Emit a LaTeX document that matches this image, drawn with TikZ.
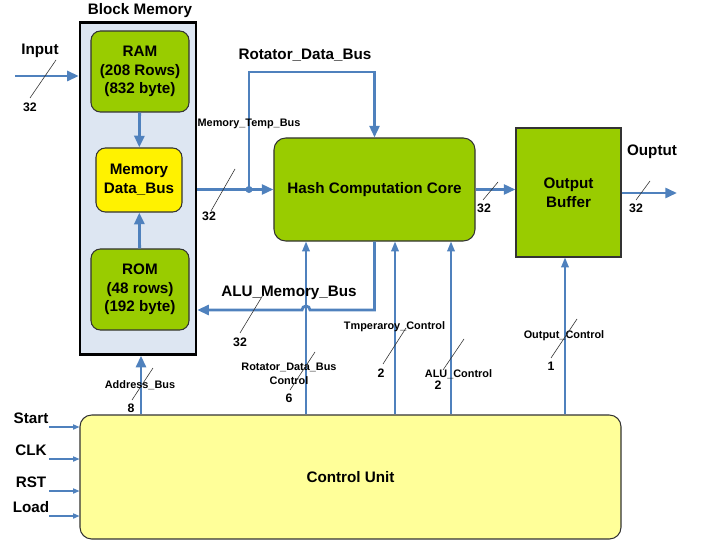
\documentclass[tikz,border=0pt]{standalone}
\usepackage{fontspec}
\setmainfont{Liberation Sans}
\usetikzlibrary{arrows.meta}

\definecolor{busblue}{RGB}{79,129,189}
\definecolor{coregreen}{RGB}{153,204,0}
\definecolor{memblue}{RGB}{221,230,242}
\definecolor{paleyellow}{RGB}{255,255,153}

\begin{document}
\begin{tikzpicture}[x=0.03cm,y=-0.03cm,
    blk/.style={draw=black!80,line width=0.9pt,align=center,font=\fontsize{13}{16}\selectfont\bfseries},
    bus/.style={busblue,line width=2.4pt,-{Triangle[length=10pt,width=8.5pt]}},
    ctrl/.style={busblue,line width=1.5pt,-{Triangle[length=8.5pt,width=6.5pt]}},
    sig/.style={busblue,line width=0.9pt,-{Triangle[length=5.5pt,width=4.5pt]}},
    slash/.style={black!80,line width=0.5pt},
    head/.style={font=\fontsize{13}{16}\selectfont\bfseries},
    tag/.style={font=\fontsize{9.3}{12}\selectfont\bfseries,align=center,inner sep=1pt},
    busw/.style={font=\fontsize{10.5}{12}\selectfont\bfseries,inner sep=1pt}]
    \useasboundingbox (0,0) rectangle (704,541);

    % memory block
    \node[blk,fill=memblue,draw=black,line width=2pt,minimum width=3.48cm,minimum height=9.96cm] (mem) at (138,188.5) {};
    \node[head] (memlbl) at (140,11) {Block Memory};
    \node[blk,fill=coregreen,rounded corners=8pt,minimum width=2.94cm,minimum height=2.43cm] (ram) at (140,71.5) {RAM\\(208 Rows)\\(832 byte)};
    \node[blk,fill=yellow,rounded corners=8pt,minimum width=2.58cm,minimum height=1.92cm] (mdb) at (139,180) {Memory\\Data\_Bus};
    \node[blk,fill=coregreen,rounded corners=8pt,minimum width=2.94cm,minimum height=2.43cm] (rom) at (140,289.5) {ROM\\(48 rows)\\(192 byte)};

    \node[blk,fill=coregreen,rounded corners=10pt,minimum width=6.03cm,minimum height=3.09cm] (hash) at (374.5,189.5) {Hash Computation Core};
    \node[blk,fill=coregreen,minimum width=3.15cm,minimum height=3.87cm] (obuf) at (568.5,192.5) {Output\\Buffer};
    \node[blk,fill=paleyellow,rounded corners=10pt,minimum width=16.23cm,minimum height=3.72cm] (cu) at (350.5,477) {Control Unit};

    % buses
    \draw[bus] (ram) -- (mdb);
    \draw[bus] (rom) -- (mdb);
    \coordinate (inp) at (15,76);
    \draw[bus] (inp) -- (inp -| mem.west);
    \coordinate (tap) at (249,189.5);
    \coordinate (rtop) at (249,72);
    \draw[bus] (mem.east |- hash.west) -- (hash.west);
    \draw[bus] (tap) -- (rtop) -| (hash.north);
    \fill[busblue] (tap) circle (3pt);
    \coordinate (alu) at (374.5,310);
    \draw[bus] (hash.south) -- (alu) -- (310,310) arc[start angle=0,end angle=-180,radius=4] -- (mem.east |- alu);
    \draw[bus] (hash.east) -- (hash.east -| obuf.west);
    \coordinate (outp) at (677,193);
    \draw[bus] (obuf.east |- outp) -- (outp);
    \coordinate (adr) at (141,380);
    \draw[bus] (cu.north -| adr) -- (mem.south -| adr);

    % control lines
    \foreach \x/\n in {306/rdc,395/tpc,451/aluc}{
      \coordinate (\n) at (\x,400);
      \draw[ctrl] (cu.north -| \n) -- (hash.south -| \n);
    }
    \coordinate (outc) at (565,400);
    \draw[ctrl] (cu.north -| outc) -- (obuf.south -| outc);

    \foreach \y/\s in {427/Start,459/CLK,491/RST,516/Load}{
      \coordinate (p\s) at (49,\y);
      \draw[sig] (p\s) -- (p\s -| cu.west);
      \node[head] (l\s) at (31,\y-9) {\s};
    }

    % labels
    \node[head] (inlbl) at (40,51) {Input};
    \node[head] (rdblbl) at (305,55) {Rotator\_Data\_Bus};
    \node[head] (alulbl) at (289,293) {ALU\_Memory\_Bus};
    \node[head] (outlbl) at (652,152) {Ouptut};
    \node[tag] (mtblbl) at (249,124) {Memory\_Temp\_Bus};
    \node[tag] (adrlbl) at (140,385) {Address\_Bus};
    \node[tag] (rdclbl) at (289,374) {Rotator\_Data\_Bus\\Control};
    \node[tag] (tpclbl) at (394.5,327) {Tmperaroy\_Control};
    \node[tag] (aluclbl) at (458.5,374) {ALU\_Control};
    \node[tag] (outclbl) at (564,336) {Output\_Control};

    % bus widths
    \foreach \ax/\ay/\bx/\by in {30/98/56/60, 211/211/235/169, 483/200/498/182, 636/200/650/181,
        240/333/263/295, 132/400/153/368, 290/390/315/352, 383/364/406/328, 443/370/464/339, 551/358/577/319}
      \draw[slash] (\ax,\ay) -- (\bx,\by);
    \foreach \px/\py/\n [count=\i] in {30/107/32, 209/216/32, 484/208/32, 636/208/32, 240/342/32,
        131/408/8, 289/398/6, 381/373/2, 438/385/2, 551/366/1}
      \node[busw] (num\i) at (\px,\py) {\n};
\end{tikzpicture}
\end{document}
